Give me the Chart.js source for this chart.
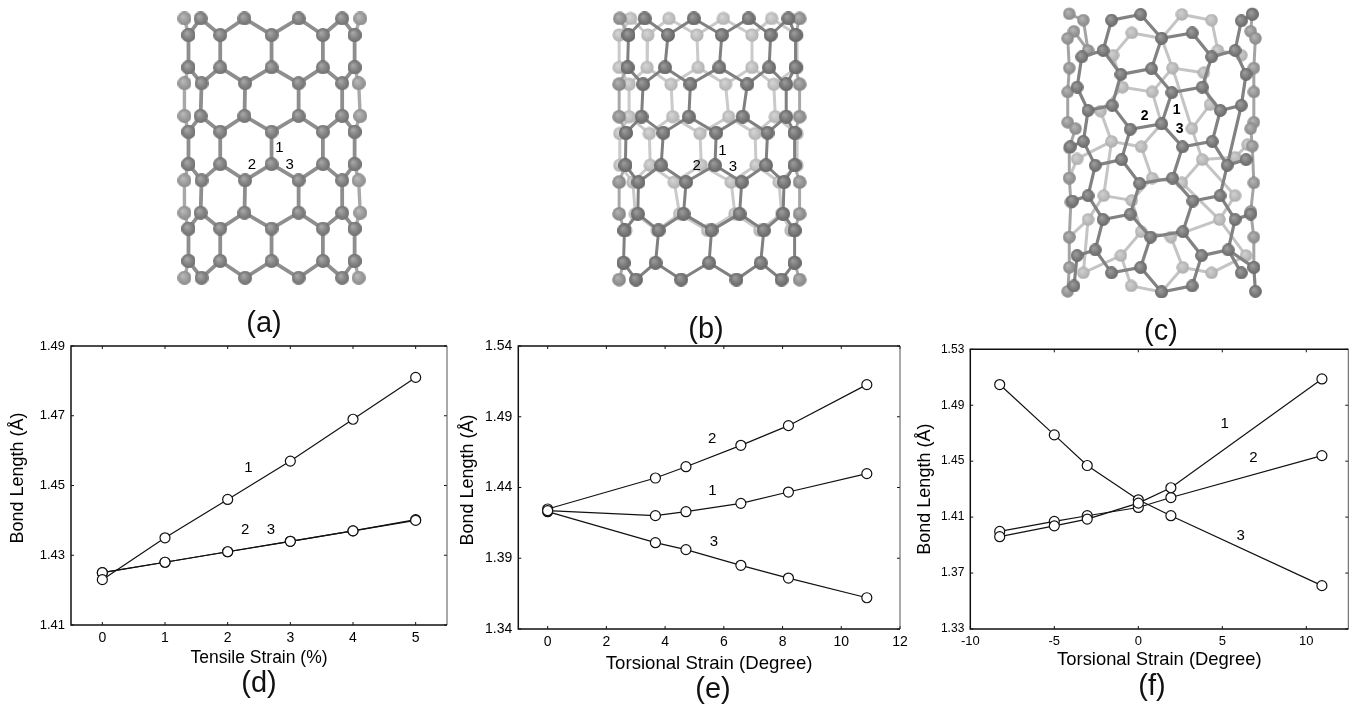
<!DOCTYPE html>
<html><head><meta charset="utf-8">
<script src="https://cdn.jsdelivr.net/npm/chart.js@4"></script>
<style>
html,body{margin:0;padding:0;background:#fff;width:1368px;height:708px;overflow:hidden}
canvas{position:absolute;display:block}
.cap{position:absolute;font:29px "Liberation Sans",Arial,sans-serif;color:#111;transform:translate(-50%,-50%);white-space:nowrap}
</style></head><body>
<script>
// ---------- chart (d)
const tensileStrain=[0,1,2,3,4,5];
const dBond1=[1.423,1.435,1.446,1.457,1.469,1.481];
const dBond2=[1.425,1.428,1.431,1.434,1.437,1.440];
const dBond3=[1.425,1.428,1.431,1.434,1.437,1.4402];
const dXTicks=[0,1,2,3,4,5];
const dYTicks=[1.41,1.43,1.45,1.47,1.49];
// ---------- chart (e)
const eStrain=[0,3.67,4.71,6.58,8.2,10.87];
const eBond1=[1.4236,1.4201,1.4229,1.4288,1.4368,1.4498];
const eBond2=[1.4248,1.4467,1.4547,1.4698,1.4837,1.5127];
const eBond3=[1.4229,1.4010,1.3961,1.3850,1.3760,1.3621];
const eXTicks=[0,2,4,6,8,10,12];
const eYTicks=[1.34,1.39,1.44,1.49,1.54];
// ---------- chart (f)
const fStrain=[-8.25,-5,-3.04,0,1.94,10.93];
const fBond1=[1.3960,1.4038,1.4086,1.4200,1.4310,1.5088];
const fBond2=[1.3998,1.4069,1.4110,1.4169,1.4240,1.4540];
const fBond3=[1.5048,1.4688,1.4469,1.4224,1.4110,1.3610];
const fXTicks=[-10,-5,0,5,10];
const fYTicks=[1.33,1.37,1.41,1.45,1.49,1.53];
// ---------- curve labels
const dNotes=[[2.33,1.455,'1'],[2.28,1.4372,'2'],[2.69,1.4374,'3']];
const eNotes=[[5.6,1.4743,'2'],[5.61,1.4373,'1'],[5.66,1.4015,'3']];
const fNotes=[[5.14,1.4767,'1'],[6.85,1.4526,'2'],[6.09,1.3967,'3']];
// ---------- nanotube (a): rows are [y, x, x, ...]
const aFrontRows=[[33,137,278,452,592],[85,98,200,365,530,632],[187,98,200,365,530,632],[237,140,280,452,592],[340,137,278,452,592],[390,98,200,365,530,632],[492,98,200,365,530,632],[543,140,280,452,592],[645,137,278,452,592],[695,98,200,365,530,632],[797,98,200,365,530,632],[850,140,280,452,592]];
const aBackPaths=[[[85,33],[98,85]],[[98,187],[85,237],[85,340],[98,390]],[[98,492],[85,543],[85,645],[98,695]],[[98,797],[85,850]],[[650,33],[632,85]],[[632,187],[645,237],[650,340],[632,390]],[[632,492],[645,543],[650,645],[632,695]],[[632,797],[645,850]]];
const aNotes=[[390,440,'1'],[302,494,'2'],[423,494,'3']];
// ---------- nanotube (b)
const bFrontRows=[[33,150,308,484,612],[85,98,225,398,555,635],[187,95,215,390,550,635],[240,145,297,480,605],[342,140,292,465,605],[393,90,210,380,545,632],[495,88,203,376,540,632],[548,130,283,462,598],[648,128,275,455,595],[700,85,195,365,533,632],[802,82,185,357,523,632],[855,122,267,445,590]];
const bMidPaths=[[[70,33],[98,85]],[[95,187],[68,240],[68,342],[90,393]],[[88,495],[68,548],[68,648],[85,700]],[[82,802],[68,855]],[[648,33],[635,85]],[[635,187],[648,240],[648,342],[632,393]],[[632,495],[648,548],[648,648],[632,700]],[[632,802],[648,855]]];
const bBackRows=[[33,105,228,403,558],[85,68,160,318,495,640],[187,68,158,322,495,640],[240,100,235,410,565],[342,100,240,420,570],[395,70,165,328,505,640],[495,70,168,332,508,640],[548,112,245,428,582],[648,120,262,440,590],[700,90,190,352,520,620]];
const bNotes=[[400,450,'1'],[317,497,'2'],[434,500,'3']];
// ---------- nanotube (c)
const cFrontPaths=[
[[205,40],[298,22],[365,97],[463,80],[525,155],[600,135],[620,42],[655,22]],
[[205,40],[178,135],[110,155],[95,250],[130,323]],
[[365,97],[333,192],[235,210],[178,135]],
[[333,192],[398,267],[495,250],[525,155]],
[[600,135],[635,210],[620,307],[553,323],[495,250]],
[[235,210],[207,307],[130,323],[115,420],[153,495],[130,590],[178,665],[265,648],[330,720],[433,703],[465,607],[552,590],[600,665],[650,648]],
[[398,267],[365,365],[265,382],[207,307]],
[[365,365],[432,437],[527,420],[553,323]],
[[432,437],[400,535],[295,552],[237,477],[265,382]],
[[237,477],[153,495]],[[115,420],[73,437]],[[130,590],[80,607]],
[[400,535],[465,607]],[[295,552],[265,648]],
[[527,420],[575,495],[552,590]],[[620,307],[575,495],[635,477]],
[[433,703],[493,778],[578,760],[600,665]],
[[330,720],[298,815],[365,892],[463,873],[493,778]],
[[298,815],[205,832],[153,760],[178,665]],
[[153,760],[95,778],[85,873]],[[578,760],[620,832]],[[578,760],[660,815],[665,890]]
];
const cMidPaths=[
[[70,20],[115,40],[130,135],[85,75],[65,97],[70,190],[65,265],[65,360],[90,380],[70,440],[70,535],[75,610],[70,720],[70,815],[65,890]],
[[655,20],[650,75],[665,97],[660,190],[660,265],[660,360],[650,380],[655,435],[660,550],[650,640],[660,720],[660,815]]
];
const cBackPaths=[
[[270,80],[365,97],[430,22],[525,40],[545,135],[620,150]],
[[270,80],[210,150],[240,250],[335,265],[400,190],[500,205],[545,135]],
[[365,97],[400,190]],[[335,265],[365,365],[300,437],[205,420],[170,325],[240,250]],
[[400,190],[462,380],[495,477],[430,550],[335,535],[300,437]],
[[462,380],[520,305],[500,205]],[[495,477],[600,470],[640,430]],[[205,420],[95,475],[70,535]],
[[335,535],[270,605],[180,590],[205,420]],[[430,550],[550,665],[600,590],[495,477]],
[[270,605],[300,703],[395,720],[433,815],[525,832],[635,778],[550,665]],
[[180,590],[130,665],[115,832],[235,778],[300,703]],
[[235,778],[268,873],[365,892],[433,815]],[[395,720],[550,665]],[[130,665],[70,720]]
];
const cNotes=[[413,323,'1'],[311,340,'2'],[423,382,'3']];
// ---------- panel captions [text, x, y]
const captions=[['(a)',264,322],['(b)',706,328],['(c)',1161,330],['(d)',259,682],['(e)',713,688],['(f)',1152,685]];

const FF='"Liberation Sans",Arial,sans-serif';
const rowsToPaths=rows=>{const out=[];
 for(let r=0;r<rows.length-1;r++){const A=rows[r],B=rows[r+1],a=A.slice(1),b=B.slice(1);
  if(a.length===b.length){a.forEach((x,i)=>out.push([[x,A[0]],[b[i],B[0]]]));}
  else{const sh=a.length<b.length?a:b,lo=a.length<b.length?b:a,ys=a.length<b.length?A[0]:B[0],yl=a.length<b.length?B[0]:A[0];
   sh.forEach((x,i)=>out.push([[lo[i],yl],[x,ys],[lo[i+1],yl]]));}}
 return out;};
const sprite=(r,c0,c1,c2)=>{const s=document.createElement('canvas');s.width=s.height=Math.ceil(r*2);
 const g=s.getContext('2d'),m=s.width/2,gr=g.createRadialGradient(m-r*.25,m-r*.3,r*.1,m,m,r);
 gr.addColorStop(0,c0);gr.addColorStop(.6,c1);gr.addColorStop(1,c2);g.fillStyle=gr;g.beginPath();g.arc(m,m,r,0,7);g.fill();return s;};
const notes=(items,font,color)=>({id:'notes',afterDatasetsDraw(ch){const c=ch.ctx;c.save();c.font=font;c.fillStyle=color||'#000';c.textAlign='center';c.textBaseline='middle';
 items.forEach(n=>c.fillText(n[2],ch.scales.x.getPixelForValue(n[0]),ch.scales.y.getPixelForValue(n[1])));c.restore();}});
const frame={id:'frame',beforeDatasetsDraw(ch){const c=ch.ctx,a=ch.chartArea,X=ch.scales.x,Y=ch.scales.y;c.save();
 c.strokeStyle='#111';c.lineWidth=1;c.beginPath();
 X.ticks.forEach(t=>{const p=X.getPixelForValue(t.value);c.moveTo(p,a.bottom);c.lineTo(p,a.bottom-3);c.moveTo(p,a.top);c.lineTo(p,a.top+3);});
 Y.ticks.forEach(t=>{const p=Y.getPixelForValue(t.value);c.moveTo(a.left,p);c.lineTo(a.left+3,p);c.moveTo(a.right,p);c.lineTo(a.right-3,p);});
 c.stroke();
 c.strokeStyle='#555';c.lineWidth=1;c.beginPath();c.moveTo(a.right,a.top);c.lineTo(a.right,a.bottom);c.stroke();
 c.strokeStyle='#111';c.lineWidth=1.5;c.beginPath();c.moveTo(a.right,a.top);c.lineTo(a.left,a.top);c.lineTo(a.left,a.bottom);c.lineTo(a.right,a.bottom);c.stroke();
 c.restore();}};
function mkCanvas(l,t,w,h){const c=document.createElement('canvas');c.width=w;c.height=h;c.style.cssText=`left:${l}px;top:${t}px;width:${w}px;height:${h}px`;document.body.appendChild(c);return c;}
function plot(o){
 const c=mkCanvas(o.box[0],o.box[1],o.box[2],o.box[3]);
 new Chart(c,{type:'line',
  data:{datasets:o.series.map((ys,k)=>({label:'Bond '+(k+1),data:o.xs.map((x,i)=>({x,y:ys[i]})),borderColor:'#111',borderWidth:1.2,backgroundColor:'#fff',
    pointBackgroundColor:'#fff',pointBorderColor:'#111',pointBorderWidth:1.2,pointRadius:5,tension:0}))},
  options:{responsive:false,animation:false,devicePixelRatio:1,layout:{padding:o.pad},
   plugins:{legend:{display:false},tooltip:{enabled:false}},
   scales:{
    x:{type:'linear',min:o.xr[0],max:o.xr[1],grid:{display:false,drawTicks:false},border:{display:false},
     afterFit(s){s.height=o.xH;},afterBuildTicks(s){s.ticks=o.xt.map(v=>({value:v}));},
     ticks:{autoSkip:false,maxRotation:0,padding:o.xPad,color:'#000',font:{family:FF,size:o.xFont},callback:v=>String(v)},
     title:{display:true,text:o.xTitle,color:'#000',font:{family:FF,size:o.xTF,lineHeight:1},padding:{top:0,bottom:o.xTP}}},
    y:{min:o.yr[0],max:o.yr[1],grid:{display:false,drawTicks:false},border:{display:false},
     afterFit(s){s.width=o.yW;},afterBuildTicks(s){s.ticks=o.yt.map(v=>({value:v}));},
     ticks:{autoSkip:false,padding:6,color:'#000',font:{family:FF,size:o.yFont},callback:v=>v.toFixed(2)},
     title:{display:true,text:o.yLead+'Bond Length (Å)',color:'#000',font:{family:FF,size:18,lineHeight:1},padding:{top:o.yTP,bottom:0}}}
   }},
  plugins:[frame,notes(o.notes,'15px '+FF)]});
}
const NB='\u00a0';
plot({box:[0,330,460,370],pad:{left:5,top:16,right:13,bottom:5},yW:66,xH:70,xs:tensileStrain,series:[dBond1,dBond2,dBond3],xr:[-0.5,5.5],yr:[1.41,1.49],xt:dXTicks,yt:dYTicks,xPad:5,xFont:14,yFont:13,xTitle:'Tensile Strain (%)',xTF:17.5,xTP:28,yTP:4,yLead:NB.repeat(3),notes:dNotes});
plot({box:[450,330,470,370],pad:{left:5,top:16,right:20,bottom:5},yW:63.3,xH:66,xs:eStrain,series:[eBond1,eBond2,eBond3],xr:[-1,12],yr:[1.34,1.54],xt:eXTicks,yt:eYTicks,xPad:5,xFont:14,yFont:14,xTitle:'Torsional Strain (Degree)',xTF:18.6,xTP:21.7,yTP:4,yLead:NB.repeat(3),notes:eNotes});
plot({box:[910,330,458,370],pad:{left:5,top:19.3,right:19.7,bottom:5},yW:55.3,xH:66,xs:fStrain,series:[fBond1,fBond2,fBond3],xr:[-10,12.5],yr:[1.33,1.53],xt:fXTicks,yt:fYTicks,xPad:5,xFont:13,yFont:12,xTitle:'Torsional Strain (Degree)',xTF:18.4,xTP:25.8,yTP:1,yLead:'',notes:fNotes});

function tube(o){
 const c=mkCanvas(o.box[0],o.box[1],o.box[2],o.box[3]);
 const n=o.layers.length,ds=[];
 o.layers.forEach((L,i)=>{
  const line=[],seen={},atoms=[];
  L.paths.forEach(p=>{p.forEach(q=>{line.push({x:q[0],y:q[1]});const k=q.join();if(!seen[k]){seen[k]=1;atoms.push({x:q[0],y:q[1]});}});line.push({x:null,y:null});});
  const rank=(n-i)*2;
  ds.push({type:'scatter',label:L.name+' bonds',data:line,showLine:true,spanGaps:false,borderColor:L.bond,borderWidth:L.w,pointRadius:0,order:rank});
  ds.push({type:'scatter',label:L.name+' atoms',data:atoms,showLine:false,pointStyle:L.atom,pointRadius:L.r,order:rank-1});
 });
 new Chart(c,{type:'scatter',data:{datasets:ds},options:{responsive:false,animation:false,devicePixelRatio:1,layout:{padding:0},
  plugins:{legend:{display:false},tooltip:{enabled:false}},
  scales:{x:{type:'linear',display:false,min:0,max:o.box[2]*3},y:{type:'linear',display:false,reverse:true,min:0,max:o.box[3]*3}}},
  plugins:[notes(o.notes,o.font)]});
}
const sFront=sprite(7,'#9a9a9a','#787878','#666'),sA=sprite(7,'#a6a6a6','#828282','#707070'),sEdge=sprite(7,'#b8b8b8','#9c9c9c','#8a8a8a'),
 sMid=sprite(6.8,'#b0b0b0','#949494','#828282'),sBack=sprite(6.6,'#d4d4d4','#c0c0c0','#b2b2b2'),
 sC=sprite(6.4,'#9c9c9c','#7c7c7c','#686868'),sCM=sprite(6.2,'#b4b4b4','#989898','#888'),sCB=sprite(6.2,'#cfcfcf','#bcbcbc','#acacac');
tube({box:[150,0,240,335],font:'15px '+FF,notes:aNotes,layers:[
 {name:'edge',paths:aBackPaths,bond:'#a8a8a8',w:3.4,atom:sEdge,r:7},
 {name:'front',paths:rowsToPaths(aFrontRows),bond:'#8e8e8e',w:3.8,atom:sA,r:7}]});
tube({box:[590,0,240,340],font:'15px '+FF,notes:bNotes,layers:[
 {name:'back',paths:rowsToPaths(bBackRows),bond:'#cacaca',w:3,atom:sBack,r:6.6},
 {name:'mid',paths:bMidPaths,bond:'#a8a8a8',w:3,atom:sMid,r:6.8},
 {name:'front',paths:rowsToPaths(bFrontRows),bond:'#808080',w:3,atom:sFront,r:7}]});
tube({box:[1040,0,240,345],font:'bold 14px '+FF,notes:cNotes,layers:[
 {name:'back',paths:cBackPaths,bond:'#c4c4c4',w:3,atom:sCB,r:6.2},
 {name:'mid',paths:cMidPaths,bond:'#a4a4a4',w:3,atom:sCM,r:6.2},
 {name:'front',paths:cFrontPaths,bond:'#828282',w:3.2,atom:sC,r:6.4}]});
captions.forEach(([t,x,y])=>{const d=document.createElement('div');d.className='cap';d.textContent=t;d.style.left=x+'px';d.style.top=y+'px';document.body.appendChild(d);});
</script>
</body></html>
